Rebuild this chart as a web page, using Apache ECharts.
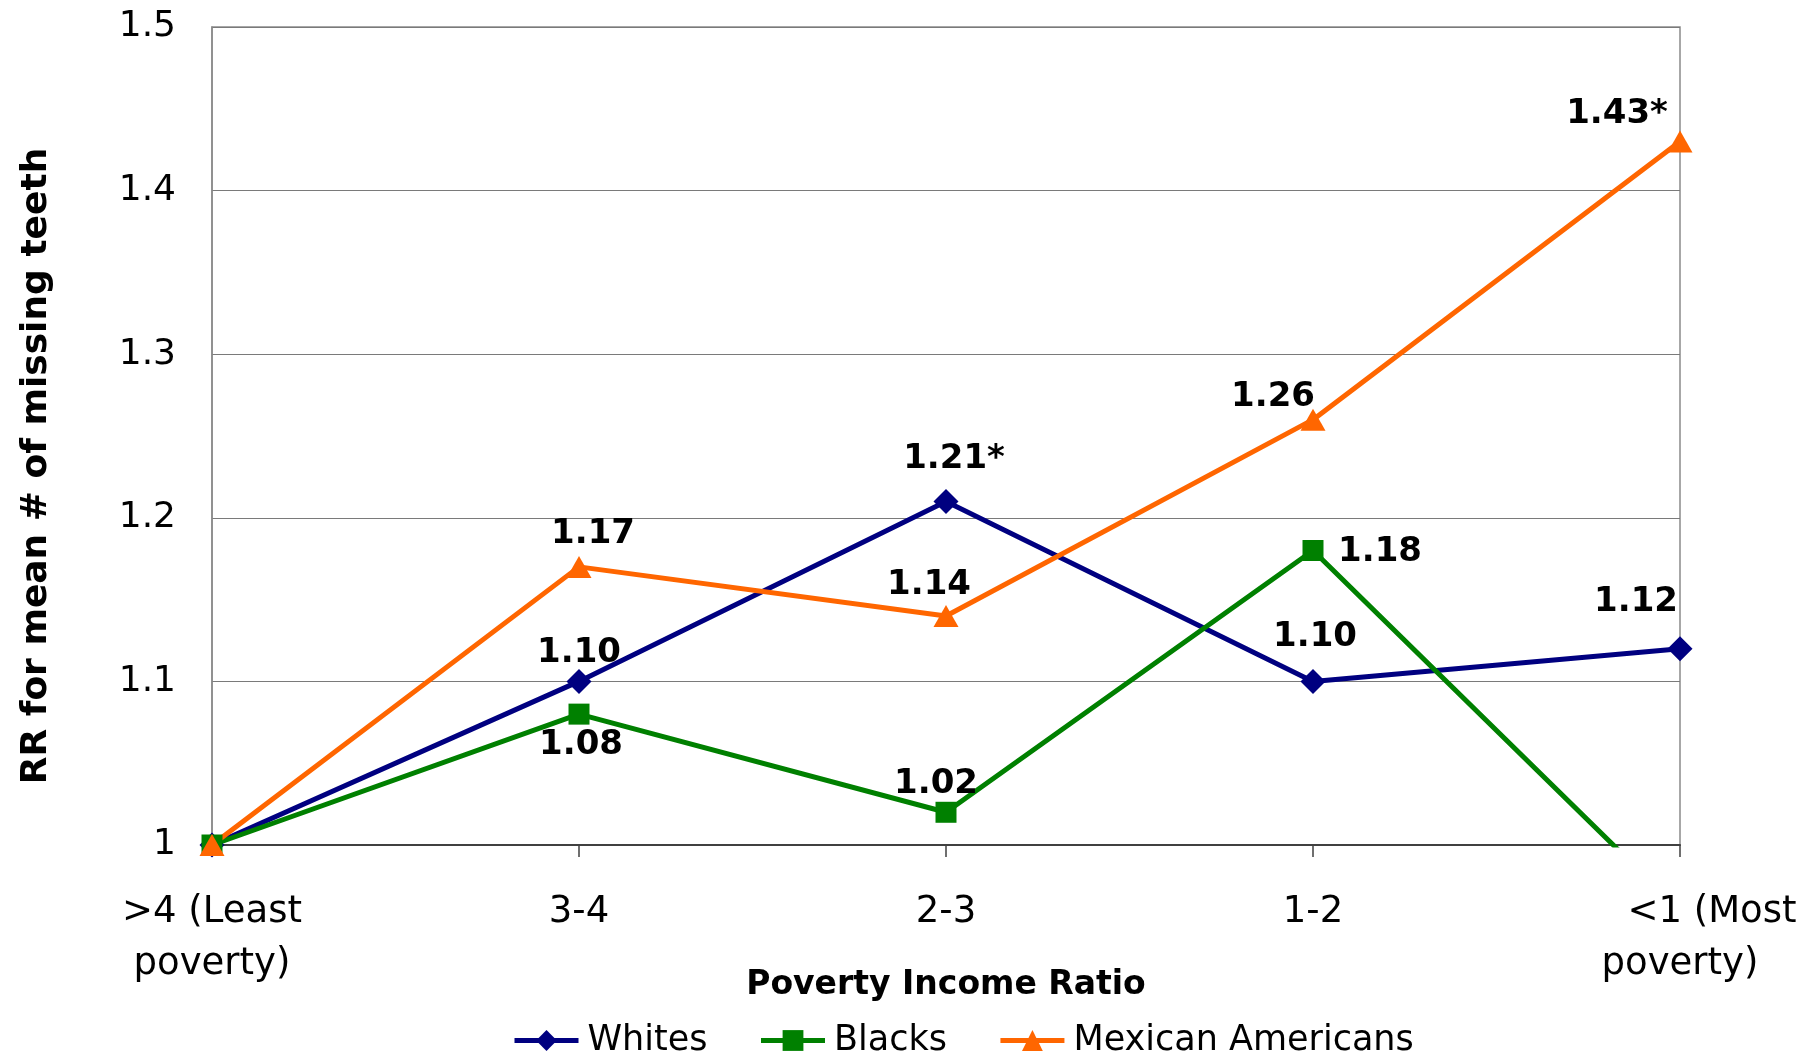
<!DOCTYPE html>
<html>
<head>
<meta charset="utf-8">
<script src="https://cdn.jsdelivr.net/npm/echarts@6/dist/echarts.min.js"></script>
<style>
  html, body { margin: 0; padding: 0; background: #ffffff; }
  #chart { width: 1807px; height: 1055px; }
</style>
</head>
<body>
<div id="chart"></div>
<script>
// Poverty income ratio groups (x axis categories)
const categories = ['>4 (Least\npoverty)', '3-4', '2-3', '1-2', '<1 (Most\npoverty)'];

// Rate ratios for mean number of missing teeth
const whites = [1, 1.10, 1.21, 1.10, 1.12];
const blacks = [1, 1.08, 1.02, 1.18, 0.96];
const mexicanAmericans = [1, 1.17, 1.14, 1.26, 1.43];

// Statistically significant ratios carry an asterisk
const whitesSig = [false, false, true, false, false];
const blacksSig = [false, false, false, false, false];
const mexicanSig = [false, false, false, false, true];

// Value axis ticks
const yTicks = [1, 1.1, 1.2, 1.3, 1.4, 1.5];

// Where each value label sits relative to its marker (null = no label)
const whitesLabelPos = [null, [0, -28], [8, -42], [2, -44], [-44, -47]];
const blacksLabelPos = [null, [2, 31], [-10, -28], [67, 2], null];
const mexicanLabelPos = [null, [14, -33], [-17, -31], [-40, -22], [-63, -27]];

const FONT = 'DejaVu Sans';

function buildData(values, sig, placement) {
  return values.map((v, i) => {
    const pos = placement[i];
    if (!pos) return { value: v, label: { show: false } };
    return {
      value: v,
      label: {
        show: true,
        position: 'inside',
        offset: pos,
        formatter: (p) => p.value.toFixed(2) + (sig[i] ? '*' : ''),
        fontFamily: FONT,
        fontWeight: 'bold',
        fontSize: 34,
        color: '#000000'
      }
    };
  });
}

function lineSeries(name, values, sig, placement, color, symbol, size) {
  return {
    name: name,
    type: 'line',
    data: buildData(values, sig, placement),
    clip: true,
    symbol: symbol,
    symbolSize: size,
    showAllSymbol: true,
    lineStyle: { color: color, width: 5 },
    itemStyle: { color: color, borderWidth: 0 },
    emphasis: { disabled: true },
    animation: false
  };
}

const chart = echarts.init(document.getElementById('chart'), null, { renderer: 'canvas' });
const lastIdx = categories.length - 1;

chart.setOption({
  backgroundColor: '#ffffff',
  animation: false,
  grid: {
    left: 212, right: 127, top: 27, bottom: 210,
    show: true, borderColor: '#8a8a8a', borderWidth: 1.5,
    backgroundColor: 'transparent'
  },
  legend: {
    data: ['Whites', 'Blacks', 'Mexican Americans'],
    left: 507,
    top: 1018,
    itemWidth: 64,
    itemHeight: 26,
    itemGap: 51,
    lineStyle: { width: 5 },
    textStyle: { fontFamily: FONT, fontSize: 35, color: '#000000', padding: [0, 0, 0, 4] },
    selectedMode: false
  },
  xAxis: {
    type: 'category',
    data: categories,
    boundaryGap: false,
    name: 'Poverty Income Ratio',
    nameLocation: 'middle',
    nameGap: 124,
    nameMoveOverlap: false,
    nameTextStyle: { fontFamily: FONT, fontWeight: 'bold', fontSize: 33, color: '#000000' },
    axisLine: { show: true, lineStyle: { color: '#404040', width: 2 } },
    axisTick: { show: true, length: 12, lineStyle: { color: '#404040', width: 1.5 } },
    axisLabel: {
      fontFamily: FONT, fontSize: 37, lineHeight: 52, margin: 41, color: '#000000',
      interval: 0,
      formatter: (value, index) => {
        const lines = value.split('\n');
        if (index === lastIdx && lines.length > 1) {
          return '{shift|' + lines[0] + '}\n{plain|' + lines.slice(1).join('\n') + '}';
        }
        return value;
      },
      rich: {
        shift: { fontFamily: FONT, fontSize: 37, lineHeight: 52, color: '#000000', padding: [0, 0, 0, 64] },
        plain: { fontFamily: FONT, fontSize: 37, lineHeight: 52, color: '#000000' }
      }
    },
    splitLine: { show: false }
  },
  yAxis: {
    type: 'value',
    min: yTicks[0],
    max: yTicks[yTicks.length - 1],
    interval: 0.1,
    name: 'RR for mean # of missing teeth',
    nameLocation: 'middle',
    nameGap: 157,
    nameRotate: 90,
    nameMoveOverlap: false,
    nameTextStyle: {
      fontFamily: FONT, fontWeight: 'bold', fontSize: 36, color: '#000000',
      padding: [0, 60, 0, 0]
    },
    axisLine: { show: true, lineStyle: { color: '#8a8a8a', width: 1.5 } },
    axisTick: { show: false },
    axisLabel: {
      fontFamily: FONT, fontSize: 36, margin: 36, color: '#000000',
      formatter: (v) => String(Math.round(v * 10) / 10)
    },
    splitLine: { show: true, lineStyle: { color: '#7a7a7a', width: 1 } }
  },
  series: [
    lineSeries('Whites', whites, whitesSig, whitesLabelPos, '#000080', 'diamond', [25, 25]),
    lineSeries('Blacks', blacks, blacksSig, blacksLabelPos, '#008000', 'rect', [21, 21]),
    lineSeries('Mexican Americans', mexicanAmericans, mexicanSig, mexicanLabelPos, '#FF6600', 'triangle', [25, 22])
  ]
});
</script>
</body>
</html>
